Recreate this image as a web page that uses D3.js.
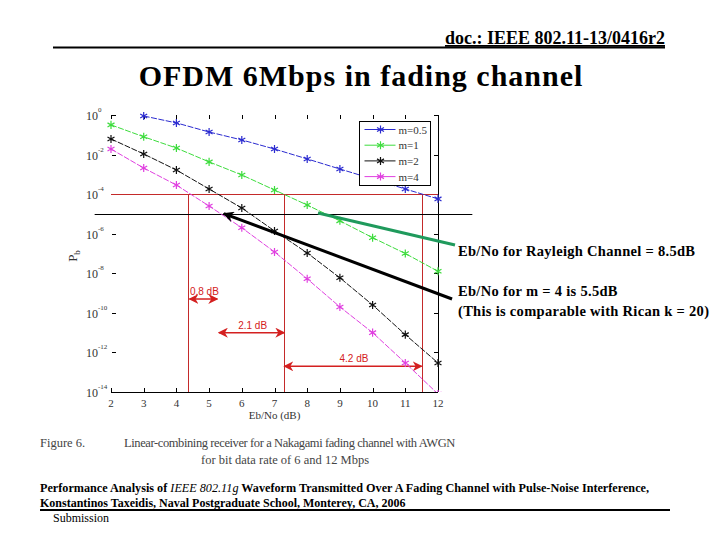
<!DOCTYPE html>
<html>
<head>
<meta charset="utf-8">
<script src="https://cdn.jsdelivr.net/npm/d3@7"></script>
<style>
  body { margin: 0; background: #fff; }
  svg text { font-family: "Liberation Serif", "Times New Roman", serif; }
</style>
</head>
<body>
<div class="box"></div>
<script>
// Eb/No (dB) sample points
var ebno = [2, 3, 4, 5, 6, 7, 8, 9, 10, 11, 12];

// log10(Pb), one per Eb/No value (null = not plotted)
var m05Log = [null, -0.05, -0.4, -0.86, -1.26, -1.72, -2.22, -2.73, -3.23, -3.74, -4.24];
var m1Log  = [-0.5, -1.1, -1.67, -2.37, -3.03, -3.79, -4.55, -5.35, -6.2, -7.0, -7.9];
var m2Log  = [-1.21, -1.97, -2.78, -3.74, -4.7, -5.86, -6.97, -8.23, -9.6, -11.1, -12.53];
var m4Log  = [-1.72, -2.68, -3.54, -4.6, -5.7, -6.92, -8.28, -9.7, -11.0, -12.53, -14.1];

var seriesNames = ['m=0.5', 'm=1', 'm=2', 'm=4'];
var seriesColors = ['#2b2bd0', '#3ddc3d', '#111111', '#e040e0'];

var xTicks = [2, 3, 4, 5, 6, 7, 8, 9, 10, 11, 12];
var yTickExp = [0, -2, -4, -6, -8, -10, -12, -14];

// Eb/No where each curve reaches Pb = 1e-4 (red guide lines)
var crossEbno = [4.35, 7.3, 11.5];
// dB gap markers
var gaps = [
	{from: 4.4, to: 5.25, lvl: -9.3, label: '0.8 dB'},
	{from: 5.3, to: 7.3, lvl: -11.0, label: '2.1 dB'},
	{from: 7.3, to: 11.5, lvl: -12.7, label: '4.2 dB'}
];

var width = 720, height = 540;
var svg = d3.select('.box')
	.append('svg')
	.attr('width', width)
	.attr('height', height);

var x = d3.scaleLinear().domain([2, 12]).range([111, 438]);
var y = d3.scaleLog().domain([1e-14, 1]).range([392, 115]);
function yl(v) { return y(Math.pow(10, v)); }
// snap to pixel centre for crisp 1px lines
function px(v) { return Math.round(v) + 0.5; }

var defs = svg.append('defs');
defs.append('clipPath')
	.attr('id', 'plot')
	.append('rect')
		.attr('x', x(2) - 4)
		.attr('y', y(1) - 4)
		.attr('width', x(12) - x(2) + 8)
		.attr('height', y(1e-14) - y(1) + 4);

var mk = function(id, color, size) {
	defs.append('marker')
		.attr('id', id)
		.attr('viewBox', '0 0 10 10')
		.attr('refX', 9).attr('refY', 5)
		.attr('markerWidth', size).attr('markerHeight', size)
		.attr('orient', 'auto-start-reverse')
		.attr('markerUnits', 'userSpaceOnUse')
		.append('path')
			.attr('d', 'M0,0 L10,5 L0,10 L3,5 Z')
			.style('fill', color);
};
mk('redhead', '#d42020', 10);
mk('blackhead', '#000', 11);

// header
svg.append('text')
	.attr('x', 665).attr('y', 44)
	.attr('text-anchor', 'end')
	.style('font-size', '18px').style('font-weight', 'bold')
	.style('text-decoration', 'underline')
	.text('doc.: IEEE 802.11-13/0416r2');
svg.append('line')
	.attr('x1', 53).attr('y1', 47.5).attr('x2', 665).attr('y2', 47.5)
	.style('stroke', '#000').style('stroke-width', 2);

svg.append('text')
	.attr('x', 361).attr('y', 86)
	.attr('text-anchor', 'middle')
	.style('font-size', '30px').style('font-weight', 'bold')
	.style('letter-spacing', '1px')
	.text('OFDM 6Mbps in fading channel');

// axes frame (bottom + right) and inward ticks
var g = svg.append('g');
g.append('line')
	.attr('x1', x(2)).attr('y1', px(y(1e-14))).attr('x2', x(12)).attr('y2', px(y(1e-14)))
	.style('stroke', '#000');
g.append('line')
	.attr('x1', px(x(12))).attr('y1', y(1)).attr('x2', px(x(12))).attr('y2', y(1e-14))
	.style('stroke', '#000');

xTicks.forEach(function(t) {
	g.append('line').attr('x1', px(x(t))).attr('x2', px(x(t)))
		.attr('y1', y(1e-14)).attr('y2', y(1e-14) - 4).style('stroke', '#000');
	g.append('line').attr('x1', px(x(t))).attr('x2', px(x(t)))
		.attr('y1', y(1)).attr('y2', y(1) + 4).style('stroke', '#000');
	g.append('text')
		.attr('x', x(t)).attr('y', y(1e-14) + 15)
		.attr('text-anchor', 'middle')
		.style('font-size', '11px').style('fill', '#333')
		.text(t);
});

yTickExp.forEach(function(e) {
	var yy = px(yl(e));
	g.append('line').attr('x1', x(2) + 1).attr('x2', x(2) + 5)
		.attr('y1', yy).attr('y2', yy).style('stroke', '#000');
	g.append('line').attr('x1', x(12)).attr('x2', x(12) - 4)
		.attr('y1', yy).attr('y2', yy).style('stroke', '#000');
	var t = g.append('text')
		.attr('x', 86).attr('y', yy + 4)
		.style('font-size', '12px').style('fill', '#333');
	t.append('tspan').text('10');
	t.append('tspan').attr('dy', -8).style('font-size', '7px').text(e);
});

g.append('text')
	.attr('x', x(7)).attr('y', 419)
	.attr('text-anchor', 'middle')
	.style('font-size', '11px').style('fill', '#333')
	.text('Eb/No (dB)');

var pb = g.append('text')
	.attr('transform', 'translate(77,256) rotate(-90)')
	.attr('text-anchor', 'middle')
	.style('font-size', '13px').style('fill', '#333');
pb.append('tspan').text('P');
pb.append('tspan').attr('dy', 3).style('font-size', '9px').text('b');

// red guide lines at Pb = 1e-4
g.append('line')
	.attr('x1', x(2)).attr('x2', x(12)).attr('y1', px(yl(-4))).attr('y2', px(yl(-4)))
	.style('stroke', '#c42a2a');
crossEbno.forEach(function(c) {
	g.append('line')
		.attr('x1', px(x(c))).attr('x2', px(x(c))).attr('y1', yl(-4)).attr('y2', y(1e-14))
		.style('stroke', '#c42a2a');
});

// black level line at 1e-5
g.append('line')
	.attr('x1', x(1.5)).attr('x2', x(13.05)).attr('y1', px(yl(-5))).attr('y2', px(yl(-5)))
	.style('stroke', '#000');

// curves
var allSeries = [m05Log, m1Log, m2Log, m4Log];
var line = d3.line()
	.defined(function(d) { return d.v !== null; })
	.x(function(d) { return x(d.x); })
	.y(function(d) { return yl(d.v); });
var star = d3.symbol().type(d3.symbolAsterisk).size(45);

allSeries.forEach(function(s, i) {
	var pts = ebno.map(function(e, k) { return {x: e, v: s[k]}; });
	var sg = svg.append('g').attr('clip-path', 'url(#plot)');
	sg.append('path')
		.datum(pts)
		.attr('d', line)
		.style('fill', 'none')
		.style('stroke', seriesColors[i])
		.style('stroke-width', 1)
		.style('stroke-dasharray', '6,1.5');
	sg.selectAll('path.mk')
		.data(pts.filter(function(d) { return d.v !== null; }))
		.enter()
		.append('path')
			.attr('class', 'mk')
			.attr('transform', function(d) { return 'translate(' + x(d.x) + ',' + yl(d.v) + ')'; })
			.attr('d', star)
			.style('fill', 'none')
			.style('stroke', seriesColors[i])
			.style('stroke-width', 1.2);
});

// dB gap arrows
gaps.forEach(function(d) {
	g.append('line')
		.attr('x1', x(d.from)).attr('x2', x(d.to))
		.attr('y1', yl(d.lvl)).attr('y2', yl(d.lvl))
		.attr('marker-start', 'url(#redhead)')
		.attr('marker-end', 'url(#redhead)')
		.style('stroke', '#d42020').style('stroke-width', 1.5);
	g.append('text')
		.attr('x', (x(d.from) + x(d.to)) / 2 + 1).attr('y', yl(d.lvl) - 4)
		.attr('text-anchor', 'middle')
		.style('font-family', '"Liberation Sans", Arial, sans-serif')
		.style('font-size', '10px').style('fill', '#d42020')
		.text(d.label);
});

// legend
var lg = svg.append('g').attr('transform', 'translate(359.5,121.5)');
lg.append('rect')
	.attr('width', 71).attr('height', 64)
	.style('fill', '#fff').style('stroke', '#000');
seriesNames.forEach(function(n, i) {
	var ly = 8 + i * 15.7;
	lg.append('line').attr('x1', 5).attr('x2', 36).attr('y1', ly).attr('y2', ly)
		.style('stroke', seriesColors[i]);
	lg.append('path').attr('transform', 'translate(21,' + ly + ')')
		.attr('d', star).style('fill', 'none')
		.style('stroke', seriesColors[i]).style('stroke-width', 1.2);
	lg.append('text').attr('x', 39).attr('y', ly + 4)
		.style('font-size', '11px').style('fill', '#333')
		.text(n);
});

// annotation pointers
svg.append('line')
	.attr('x1', x(12.52)).attr('y1', yl(-6.57))
	.attr('x2', x(8.33)).attr('y2', yl(-4.95))
	.style('stroke', '#1f9a5c').style('stroke-width', 3);
svg.append('line')
	.attr('x1', x(12.43)).attr('y1', yl(-9.3))
	.attr('x2', x(5.45)).attr('y2', yl(-4.98))
	.attr('marker-end', 'url(#blackhead)')
	.style('stroke', '#000').style('stroke-width', 3);

var notes = [
	{t: 'Eb/No for Rayleigh Channel = 8.5dB', y: 256},
	{t: 'Eb/No for m = 4 is 5.5dB', y: 296},
	{t: '(This is comparable with Rican k = 20)', y: 316}
];
notes.forEach(function(n) {
	svg.append('text')
		.attr('x', 458).attr('y', n.y)
		.style('font-size', '14.5px').style('font-weight', 'bold')
		.style('letter-spacing', '0.3px')
		.text(n.t);
});

// figure caption
var cap = svg.append('g').style('fill', '#444').style('font-size', '12.5px');
cap.append('text').attr('x', 40).attr('y', 447).text('Figure 6.');
cap.append('text').attr('x', 124).attr('y', 447)
	.style('letter-spacing', '-0.4px')
	.text('Linear-combining receiver for a Nakagami fading channel with AWGN');
cap.append('text').attr('x', 201).attr('y', 464)
	.text('for bit data rate of 6 and 12 Mbps');

// footer
var f1 = svg.append('text').attr('x', 40).attr('y', 492)
	.style('font-size', '12.2px').style('font-weight', 'bold');
f1.append('tspan').text('Performance Analysis of ');
f1.append('tspan').style('font-style', 'italic').style('font-weight', 'normal').text('IEEE 802.11g');
f1.append('tspan').text(' Waveform Transmitted Over A Fading Channel with Pulse-Noise Interference,');
svg.append('text').attr('x', 40).attr('y', 507)
	.style('font-size', '12px').style('font-weight', 'bold')
	.text('Konstantinos Taxeidis, Naval Postgraduate School, Monterey, CA, 2006');
svg.append('line')
	.attr('x1', 40).attr('y1', 510).attr('x2', 670).attr('y2', 510)
	.style('stroke', '#000').style('stroke-width', 2);
svg.append('text').attr('x', 53).attr('y', 522)
	.style('font-size', '12px')
	.text('Submission');
</script>
</body>
</html>
